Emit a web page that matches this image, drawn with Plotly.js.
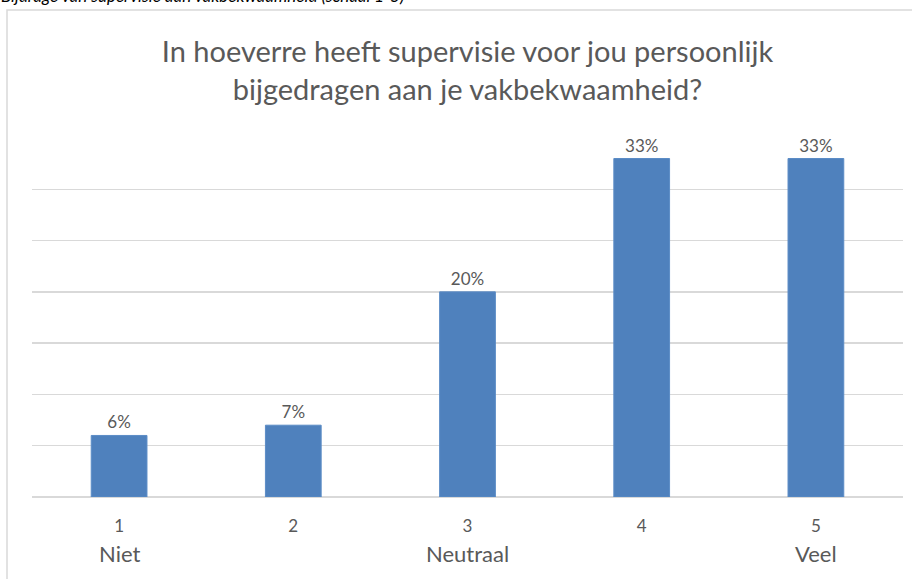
<!DOCTYPE html>
<html>
<head>
<meta charset="utf-8">
<script src="https://cdn.plot.ly/plotly-3.0.1.min.js"></script>
<style>
  html, body { margin: 0; padding: 0; background: #fff; }
  #chart { width: 912px; height: 579px; }
</style>
</head>
<body>
<div id="chart"></div>
<script>
var categories = ['1', '2', '3', '4', '5'];
var scaleWords = ['Niet', '', 'Neutraal', '', 'Veel'];
var percents = [6, 7, 20, 33, 33];

function main(){
	drawChart();
}

function drawChart(){
	var font = 'Lato, Carlito, Calibri, sans-serif';

	var data = [{
	  x: categories,
	  y: percents,
	  type: 'bar',
	  marker: {
	    color: '#4f81bd',
	    line: {color: '#5b8cc6', width: 1}
	  },
	  texttemplate: '%{y}%',
	  textposition: 'outside',
	  textfont: {family: font, size: 17, color: '#595959'},
	  cliponaxis: false,
	  hoverinfo: 'none',
	  showlegend: false
	}];

	// words under the scale numbers (x as category index)
	var annotations = [];
	categories.forEach(function(c, i){
	  if (!scaleWords[i]) return;
	  annotations.push({
	    xref: 'x', yref: 'paper',
	    x: i, y: -0.156,
	    yanchor: 'middle',
	    text: scaleWords[i],
	    showarrow: false,
	    font: {family: font, size: 22, color: '#595959'}
	  });
	});

	// caption above the chart box (cut off by the page edge)
	annotations.push({
	  xref: 'paper', yref: 'paper',
	  x: -0.037, y: 1.364,
	  xanchor: 'left', yanchor: 'bottom',
	  text: '<i>Bijdrage van supervisie aan vakbekwaamheid (schaal 1-5)</i>',
	  showarrow: false,
	  borderpad: 0,
	  font: {family: font, size: 17, color: '#000000'}
	});

	var layout = {
	  width: 912,
	  height: 579,
	  margin: {l: 32, r: 9, t: 138, b: 82},
	  paper_bgcolor: '#ffffff',
	  plot_bgcolor: '#ffffff',
	  font: {family: font, color: '#595959'},
	  title: {
	    text: 'In hoeverre heeft supervisie voor jou persoonlijk<br>bijgedragen aan je vakbekwaamheid?',
	    font: {family: font, size: 29, color: '#595959'},
	    x: 0.5,
	    xref: 'paper',
	    y: 0.893,
	    yanchor: 'middle'
	  },
	  bargap: 0.68,
	  xaxis: {
	    type: 'category',
	    range: [-0.5, 4.5],
	    showgrid: false,
	    showline: false,
	    ticks: '',
	    ticklabelstandoff: 17,
	    tickfont: {family: font, size: 17, color: '#595959'},
	    fixedrange: true
	  },
	  yaxis: {
	    range: [0, 35],
	    dtick: 5,
	    showticklabels: false,
	    showgrid: true,
	    gridcolor: '#d9d9d9',
	    gridwidth: 1.3,
	    zeroline: true,
	    zerolinecolor: '#d9d9d9',
	    zerolinewidth: 1.3,
	    fixedrange: true
	  },
	  shapes: [{
	    type: 'rect',
	    xref: 'paper', yref: 'paper',
	    x0: -0.0287, x1: 1.02,
	    y0: -0.26, y1: 1.3565,
	    line: {color: '#d9d9d9', width: 1.5},
	    fillcolor: 'rgba(0,0,0,0)',
	    layer: 'below'
	  }],
	  annotations: annotations
	};

	Plotly.newPlot('chart', data, layout, {
		staticPlot: true,
		displayModeBar: false
	});
}

main();
</script>
</body>
</html>
